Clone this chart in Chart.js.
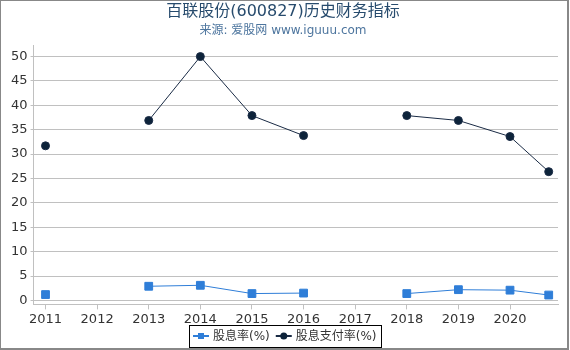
<!DOCTYPE html>
<html>
<head>
<meta charset="utf-8">
<script src="https://cdn.jsdelivr.net/npm/chart.js@4"></script>
<style>
    body { margin: 0; background: #fff; }
    #wrap { width: 570px; height: 350px; }
</style>
</head>
<body>
<div id="wrap"><canvas id="chart" width="570" height="350"></canvas></div>
<script>
// data
const years = [2011, 2012, 2013, 2014, 2015, 2016, 2017, 2018, 2019, 2020, 2020.75];
const yieldRate = [1.2, null, 2.9, 3.1, 1.4, 1.5, null, 1.4, 2.2, 2.1, 1.1];
const payoutRate = [31.7, null, 36.9, 50.0, 37.9, 33.8, null, 37.9, 36.9, 33.6, 26.4];
const xTicks = [2011, 2012, 2013, 2014, 2015, 2016, 2017, 2018, 2019, 2020];
const yTicks = [0, 5, 10, 15, 20, 25, 30, 35, 40, 45, 50];

const font = "'DejaVu Sans', 'Noto Sans CJK SC', sans-serif";

function points(values) {
    return years.map((y, i) => ({ x: y, y: values[i] }));
}

// frame round the picture and a boxed legend under the axis
const framePlugin = {
    id: 'frame',
    afterDraw(chart) {
        const ctx = chart.ctx;
        ctx.save();
        ctx.strokeStyle = '#888';
        ctx.lineWidth = 2;
        ctx.strokeRect(0, 0, 568, 349);

        ctx.font = '12px ' + font;
        const sets = chart.data.datasets;
        const symW = 16, gap = 4, itemGap = 6, pad = 4;
        const widths = sets.map(ds => symW + gap + ctx.measureText(ds.label).width);
        const total = widths.reduce((a, b) => a + b, 0) + itemGap * (sets.length - 1) + pad * 2;
        const boxL = Math.round(chart.width / 2 - total / 2);
        const boxT = 325, boxH = 22;
        const cy = 336;
        ctx.strokeStyle = '#000';
        ctx.lineWidth = 1;
        ctx.strokeRect(boxL + 0.5, boxT + 0.5, Math.round(total), boxH);

        let x = boxL + pad;
        sets.forEach((ds, i) => {
            ctx.strokeStyle = ds.borderColor;
            ctx.lineWidth = 2;
            ctx.beginPath();
            ctx.moveTo(x, cy);
            ctx.lineTo(x + symW, cy);
            ctx.stroke();
            ctx.fillStyle = ds.backgroundColor;
            if (ds.pointStyle === 'rect') {
                ctx.fillRect(x + symW / 2 - 3, cy - 3, 6, 6);
            } else {
                ctx.beginPath();
                ctx.arc(x + symW / 2, cy, 3.5, 0, Math.PI * 2);
                ctx.fill();
            }
            ctx.fillStyle = '#333';
            ctx.textBaseline = 'middle';
            ctx.fillText(ds.label, x + symW + gap, cy + 1);
            x += widths[i] + itemGap;
        });
        ctx.restore();
    }
};

new Chart(document.getElementById("chart").getContext("2d"), {
    type: 'line',
    data: {
        datasets: [
            {
                label: '股息率(%)',
                data: points(yieldRate),
                borderColor: '#2f7ed8',
                backgroundColor: '#2f7ed8',
                borderWidth: 1,
                pointStyle: 'rect',
                pointRadius: 5.5,
                pointHoverRadius: 5.5,
                spanGaps: false
            },
            {
                label: '股息支付率(%)',
                data: points(payoutRate),
                borderColor: '#1a2b45',
                backgroundColor: '#0d233a',
                borderWidth: 1,
                pointStyle: 'circle',
                pointRadius: 4,
                pointHoverRadius: 4,
                spanGaps: false
            }
        ]
    },
    options: {
        responsive: false,
        animation: false,
        devicePixelRatio: 1,
        layout: { padding: { left: 8, right: 12, top: 0, bottom: 21 } },
        plugins: {
            title: {
                display: true,
                text: '百联股份(600827)历史财务指标',
                color: '#274b6d',
                font: { family: font, size: 16, weight: 'normal' },
                padding: { top: 2, bottom: 2 }
            },
            subtitle: {
                display: true,
                text: '来源: 爱股网 www.iguuu.com',
                color: '#4d759e',
                font: { family: font, size: 12 },
                padding: { bottom: 8 }
            },
            legend: { display: false },
            tooltip: { enabled: false }
        },
        scales: {
            x: {
                type: 'linear',
                min: 2010.768,
                max: 2020.93,
                afterBuildTicks: (scale) => { scale.ticks = xTicks.map(v => ({ value: v })); },
                ticks: {
                    color: '#333',
                    font: { family: font, size: 13 },
                    padding: 2,
                    maxRotation: 0,
                    callback: (v) => String(v)
                },
                grid: { drawOnChartArea: false, tickLength: 5, color: '#c0c0c0' },
                border: { color: '#c0c0c0' }
            },
            y: {
                min: -0.82,
                max: 52.25,
                afterBuildTicks: (scale) => { scale.ticks = yTicks.map(v => ({ value: v })); },
                ticks: {
                    color: '#333',
                    font: { family: font, size: 13 },
                    padding: 3
                },
                grid: { color: '#c0c0c0', tickLength: 3 },
                border: { color: '#c0c0c0' }
            }
        }
    },
    plugins: [framePlugin]
});
</script>
</body>
</html>
